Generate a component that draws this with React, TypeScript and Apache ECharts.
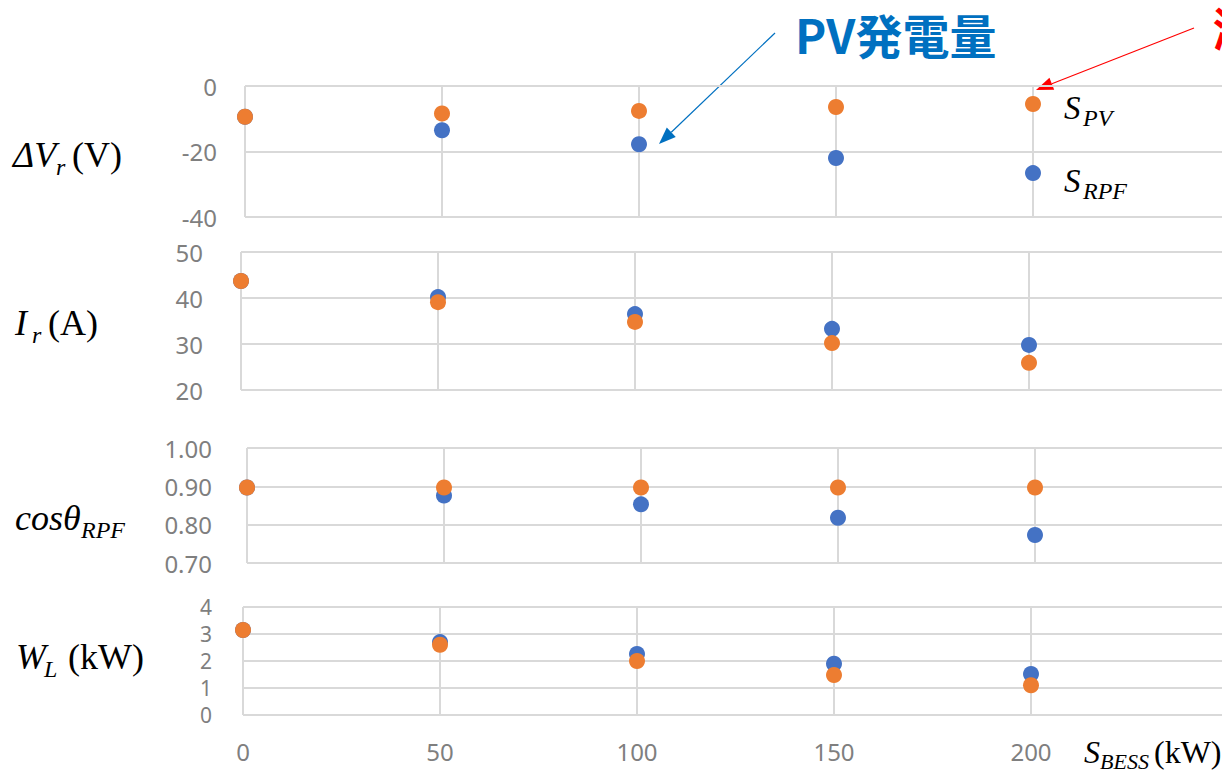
import React, { useEffect, useRef } from "react";
import * as echarts from "echarts";

// ---- data ----
const xValues = [0, 50, 100, 150, 200];
const dVrRPF = [-9.4, -13.5, -17.8, -22.0, -26.6];
const dVrPV = [-9.4, -8.4, -7.6, -6.4, -5.5];
const irRPF = [43.7, 40.2, 36.5, 33.3, 29.8];
const irPV = [43.7, 39.1, 34.8, 30.2, 25.9];
const cosRPF = [0.897, 0.876, 0.853, 0.818, 0.773];
const cosPV = [0.897, 0.897, 0.897, 0.897, 0.897];
const wlRPF = [3.15, 2.7, 2.26, 1.9, 1.52];
const wlPV = [3.15, 2.6, 2.0, 1.48, 1.1];
const xMin = 0;
const xMax = 250;
const xStep = 50;
const yRanges = [
  { min: -40, max: 0, interval: 20, digits: 0 },
  { min: 20, max: 50, interval: 10, digits: 0 },
  { min: 0.7, max: 1.0, interval: 0.1, digits: 2 },
  { min: 0, max: 4, interval: 1, digits: 0 },
];
const panelRPF = [dVrRPF, irRPF, cosRPF, wlRPF];
const panelPV = [dVrPV, irPV, cosPV, wlPV];

const BLUE = "#4472C4";
const ORANGE = "#ED7D31";
const GRID = "#d9d9d9";
const TICK = "#7f7f7f";

const CONTAINER_W = 1260;
const PLOT_W = 985;
const gridBoxes = [
  { left: 245, top: 86, height: 131 },
  { left: 241, top: 252, height: 138 },
  { left: 247, top: 448, height: 115 },
  { left: 243, top: 607, height: 108 },
];
const labelMargins = [28, 38, 35, 31];

function txt(text: string, x: number, y: number, size: number, italic = true, extra: any = {}) {
  return {
    type: "text",
    x,
    y,
    silent: true,
    style: {
      text,
      fontSize: size,
      fontFamily: '"Liberation Serif", "DejaVu Serif", serif',
      fontStyle: italic ? "italic" : "normal",
      fill: "#000",
      verticalAlign: "middle",
      align: "left",
      ...extra,
    },
  };
}

function arrow(x1: number, y1: number, x2: number, y2: number, color: string, width: number, headLen: number, headW: number) {
  const dx = x2 - x1;
  const dy = y2 - y1;
  const len = Math.sqrt(dx * dx + dy * dy);
  const ux = dx / len;
  const uy = dy / len;
  const bx = x2 - ux * headLen;
  const by = y2 - uy * headLen;
  const px = (-uy * headW) / 2;
  const py = (ux * headW) / 2;
  return [
    {
      type: "line",
      silent: true,
      shape: { x1, y1, x2: bx, y2: by },
      style: { stroke: color, lineWidth: width },
    },
    {
      type: "polygon",
      silent: true,
      shape: { points: [[x2, y2], [bx + px, by + py], [bx - px, by - py]] },
      style: { fill: color },
    },
  ];
}

export default function App() {
  const ref = useRef<HTMLDivElement>(null);
  useEffect(() => {
    if (!ref.current) return;
    const chart = echarts.init(ref.current, undefined, { renderer: "svg" });

    const grids = gridBoxes.map((g) => ({
      left: g.left,
      top: g.top,
      height: g.height,
      right: CONTAINER_W - g.left - PLOT_W,
    }));
    const xAxes = gridBoxes.map((_, i) => ({
      type: "value",
      gridIndex: i,
      min: xMin,
      max: xMax,
      interval: xStep,
      axisLine: { show: false },
      axisTick: { show: false },
      splitLine: { show: true, lineStyle: { color: GRID, width: 2 } },
      axisLabel: {
        show: i === 3,
        showMaxLabel: false,
        margin: 24,
        fontSize: 24,
        color: TICK,
        fontFamily: '"Noto Sans", sans-serif',
      },
    }));
    const yAxes = yRanges.map((r, i) => ({
      type: "value",
      gridIndex: i,
      min: r.min,
      max: r.max,
      interval: r.interval,
      axisLine: { show: false },
      axisTick: { show: false },
      splitLine: { show: true, lineStyle: { color: GRID, width: 2 } },
      axisLabel: {
        margin: labelMargins[i],
        fontSize: i === 3 ? 21 : 24,
        lineHeight: i === 3 ? 21 : 30,
        color: TICK,
        fontFamily: '"Noto Sans", sans-serif',
        formatter: (v: number) => v.toFixed(r.digits),
      },
    }));
    const series: any[] = [];
    for (let i = 0; i < 4; i++) {
      series.push({
        type: "scatter",
        xAxisIndex: i,
        yAxisIndex: i,
        symbolSize: 16,
        itemStyle: { color: BLUE, opacity: 1 },
        data: xValues.map((x, k) => [x, panelRPF[i][k]]),
        z: 2,
      });
      series.push({
        type: "scatter",
        xAxisIndex: i,
        yAxisIndex: i,
        symbolSize: 16,
        itemStyle: { color: ORANGE, opacity: 1 },
        data: xValues.map((x, k) => [x, panelPV[i][k]]),
        z: 3,
      });
    }

    const graphics: any[] = [
      // left axis titles
      txt("ΔV", 13, 155, 36),
      txt("r", 56, 167, 24),
      txt("(V)", 72, 155, 36, false),
      txt("I", 15, 323, 36),
      txt("r", 32, 335, 24),
      txt("(A)", 48, 323, 36, false),
      txt("cosθ", 15, 518, 36),
      txt("RPF", 81, 530, 24),
      txt("W", 16, 657, 36),
      txt("L", 44, 669, 24),
      txt("(kW)", 68, 657, 36, false),
      // x-axis title
      txt("S", 1084, 752, 32),
      txt("BESS", 1100, 761, 22),
      txt("(kW)", 1154, 752, 32, false),
      // legend labels
      txt("S", 1064, 108, 33),
      txt("PV", 1083, 118, 24),
      txt("S", 1064, 181, 33),
      txt("RPF", 1083, 191, 24),
      // annotations
      {
        type: "text",
        x: 795,
        y: 33,
        silent: true,
        style: {
          text: "PV発電量",
          fontSize: 47,
          lineHeight: 48,
          fontWeight: "bold",
          fontFamily: '"Noto Sans CJK JP", sans-serif',
          fill: "#0070C0",
          verticalAlign: "middle",
          align: "left",
        },
      },
      {
        type: "text",
        x: 1213,
        y: 26,
        silent: true,
        style: {
          text: "潮流量",
          fontSize: 46,
          lineHeight: 46,
          fontWeight: "bold",
          fontFamily: '"Noto Sans CJK JP", sans-serif',
          fill: "#FF0000",
          verticalAlign: "middle",
          align: "left",
        },
      },
      ...arrow(775, 33, 659, 144, "#0070C0", 1.2, 17, 13),
      ...arrow(1194, 28, 1036, 90, "#FF0000", 1.2, 17, 13),
    ];

    chart.setOption({
      animation: false,
      backgroundColor: "#ffffff",
      grid: grids,
      xAxis: xAxes,
      yAxis: yAxes,
      series,
      graphic: graphics,
    });
    return () => chart.dispose();
  }, []);
  return (
    <div
      ref={ref}
      style={{ position: "fixed", left: 0, top: 0, width: CONTAINER_W, height: 772, overflow: "hidden", background: "#fff" }}
    />
  );
}
